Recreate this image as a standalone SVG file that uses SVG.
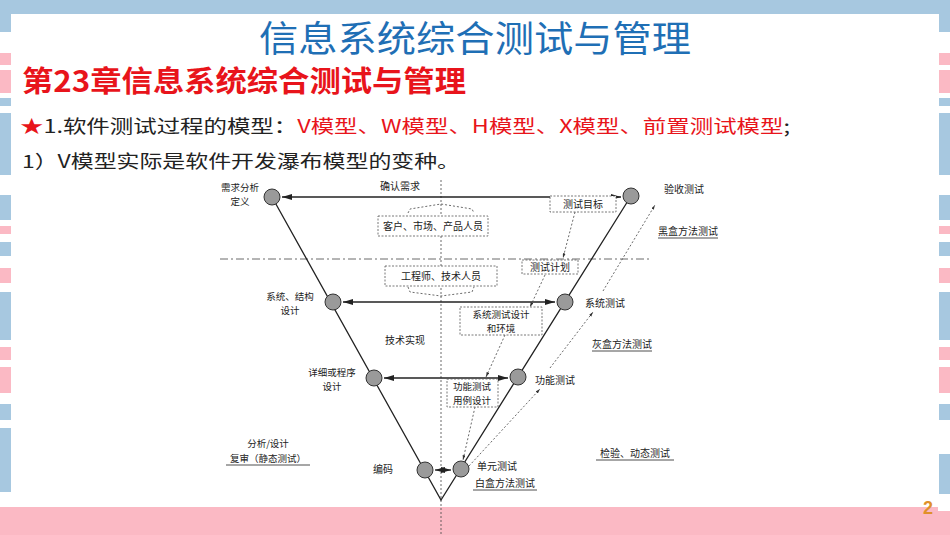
<svg xmlns="http://www.w3.org/2000/svg" width="950" height="535" viewBox="0 0 950 535">
<style>
.b{fill:#a7c8e0}.p{fill:#fbb9c4}
.l{font-family:"Noto Sans CJK SC","Liberation Sans",sans-serif;font-size:10px;fill:#222}
.sm{font-size:9.5px}
.ln{stroke:#222;stroke-width:1.3;fill:none}
.dt{stroke:#444;stroke-width:0.8;stroke-dasharray:2 2;fill:none}
.bx{stroke:#555;stroke-width:0.8;stroke-dasharray:2 1.5;fill:#fff}
.nd{fill:#9a9a9a;stroke:#333;stroke-width:1}
.u{stroke:#222;stroke-width:0.8}
</style>
<defs>
<marker id="a" viewBox="0 0 10 6" refX="10" refY="3" markerWidth="8" markerHeight="5" orient="auto-start-reverse"><path d="M0,0L10,3L0,6z" fill="#222"/></marker>
<marker id="s" viewBox="0 0 10 6" refX="10" refY="3" markerWidth="6" markerHeight="4" orient="auto"><path d="M0,0L10,3L0,6z" fill="#333"/></marker>
</defs>
<rect width="950" height="535" fill="#fff"/>
<g id="frame">
<rect class="b" x="0" y="0" width="950" height="14"/>
<rect class="b" x="0" y="0" width="11" height="32"/><rect class="p" x="0" y="53" width="11" height="12"/><rect class="p" x="0" y="70" width="11" height="23"/><rect class="b" x="0" y="98" width="11" height="8"/><rect class="b" x="0" y="113" width="11" height="62"/><rect class="b" x="0" y="195" width="11" height="25"/><rect class="p" x="0" y="226" width="11" height="8"/><rect class="b" x="0" y="242" width="11" height="14"/><rect class="p" x="0" y="268" width="11" height="15"/><rect class="b" x="0" y="292" width="11" height="48"/><rect class="p" x="0" y="347" width="11" height="13"/><rect class="p" x="0" y="367" width="11" height="26"/><rect class="b" x="0" y="404" width="11" height="16"/><rect class="b" x="0" y="428" width="11" height="64"/>
<rect class="b" x="939" y="0" width="11" height="32"/><rect class="p" x="939" y="53" width="11" height="12"/><rect class="p" x="939" y="70" width="11" height="23"/><rect class="b" x="939" y="98" width="11" height="8"/><rect class="b" x="939" y="113" width="11" height="62"/><rect class="b" x="939" y="195" width="11" height="25"/><rect class="p" x="939" y="226" width="11" height="8"/><rect class="b" x="939" y="242" width="11" height="14"/><rect class="p" x="939" y="268" width="11" height="15"/><rect class="b" x="939" y="292" width="11" height="48"/><rect class="p" x="939" y="347" width="11" height="13"/><rect class="p" x="939" y="367" width="11" height="26"/><rect class="b" x="939" y="404" width="11" height="16"/><rect class="b" x="939" y="454" width="11" height="40"/>
<rect class="p" x="0" y="507" width="938" height="28"/><rect class="p" x="938" y="511" width="12" height="24"/>
<text x="928" y="514" font-family="Liberation Sans,sans-serif" font-size="18" font-weight="bold" fill="#e0902a" text-anchor="middle">2</text>
</g>
<g id="texts" font-family="'Noto Sans CJK SC','Liberation Sans',sans-serif">
<text x="475" y="52" font-size="36" fill="#1f6fb5" text-anchor="middle" textLength="432" lengthAdjust="spacingAndGlyphs">信息系统综合测试与管理</text>
<text x="22" y="92" font-size="29" font-weight="bold" fill="#e8141b" textLength="444" lengthAdjust="spacingAndGlyphs">第23章信息系统综合测试与管理</text>
<text x="20" y="133" font-size="18" fill="#222" textLength="770" lengthAdjust="spacingAndGlyphs"><tspan fill="#e8141b">★</tspan>1.软件测试过程的模型：<tspan fill="#e8141b">V模型、W模型、H模型、X模型、前置测试模型</tspan>;</text>
<text x="22" y="168" font-size="18" fill="#222" textLength="438" lengthAdjust="spacingAndGlyphs">1）V模型实际是软件开发瀑布模型的变种。</text>
</g>
<g id="connectors">
<line x1="441" y1="180" x2="441" y2="535" class="dt" stroke-dasharray="1.5 1.5"/>
<line x1="220" y1="259" x2="652" y2="259" stroke="#444" stroke-width="0.8" stroke-dasharray="8 3 2 3"/>
<polyline class="ln" points="272,197 441,500 631,196"/>
<line class="ln" x1="282" y1="197" x2="621" y2="197" marker-start="url(#a)" marker-end="url(#a)"/>
<line class="ln" x1="343" y1="302" x2="555" y2="302" marker-start="url(#a)" marker-end="url(#a)"/>
<line class="ln" x1="384" y1="378" x2="508" y2="378" marker-start="url(#a)" marker-end="url(#a)"/>
<line class="ln" x1="435" y1="470" x2="451" y2="470" marker-start="url(#a)" marker-end="url(#a)"/>
<polyline class="dt" points="408,213 410,209 441,204 472,209 474,213"/>
<polyline class="dt" points="408,287 410,292 441,296 472,292 474,287"/>
<line class="dt" x1="575" y1="212" x2="563" y2="258" marker-end="url(#s)"/>
<line class="dt" x1="545" y1="275" x2="530" y2="307" marker-end="url(#s)"/>
<line class="dt" x1="505" y1="335" x2="486" y2="377" marker-end="url(#s)"/>
<line class="dt" x1="475" y1="407" x2="463" y2="460" marker-end="url(#s)"/>
<line class="dt" x1="469" y1="466" x2="540" y2="389" marker-end="url(#s)"/>
<line class="dt" x1="550" y1="368" x2="593" y2="312" marker-end="url(#s)"/>
<line class="dt" x1="603" y1="291" x2="655" y2="205" marker-end="url(#s)"/>
</g>
<g id="boxes" class="l">
<g id="b1"><rect class="bx" x="378" y="216" width="110" height="20"/><text x="433" y="230" text-anchor="middle">客户、市场、产品人员</text></g>
<g id="b2"><rect class="bx" x="385" y="266" width="112" height="20"/><text x="441" y="280" text-anchor="middle">工程师、技术人员</text></g>
<g id="b3"><rect class="bx" x="550" y="196" width="66" height="16"/><text x="583" y="208" text-anchor="middle">测试目标</text></g>
<g id="b4"><rect class="bx" x="522" y="260" width="56" height="14"/><text x="550" y="271" text-anchor="middle">测试计划</text></g>
<g id="b5"><rect class="bx" x="460" y="307" width="82" height="28"/><text class="sm" x="501" y="318" text-anchor="middle">系统测试设计</text><text class="sm" x="501" y="332" text-anchor="middle">和环境</text></g>
<g id="b6"><rect class="bx" x="447" y="379" width="51" height="28"/><text class="sm" x="472" y="390" text-anchor="middle">功能测试</text><text class="sm" x="472" y="404" text-anchor="middle">用例设计</text></g>
</g>
<g id="nodes" class="l">
<g id="n1"><circle class="nd" cx="272" cy="197" r="8"/><text class="sm" x="240" y="191" text-anchor="middle">需求分析</text><text class="sm" x="240" y="205" text-anchor="middle">定义</text></g>
<g id="n2"><circle class="nd" cx="631" cy="196" r="8"/><text x="684" y="193" text-anchor="middle">验收测试</text></g>
<g id="n3"><circle class="nd" cx="333" cy="302" r="8"/><text class="sm" x="290" y="300" text-anchor="middle">系统、结构</text><text class="sm" x="290" y="314" text-anchor="middle">设计</text></g>
<g id="n4"><circle class="nd" cx="565" cy="302" r="8"/><text x="605" y="307" text-anchor="middle">系统测试</text></g>
<g id="n5"><circle class="nd" cx="374" cy="378" r="8"/><text class="sm" x="332" y="376" text-anchor="middle">详细或程序</text><text class="sm" x="332" y="390" text-anchor="middle">设计</text></g>
<g id="n6"><circle class="nd" cx="518" cy="377" r="8"/><text x="555" y="384" text-anchor="middle">功能测试</text></g>
<g id="n7"><circle class="nd" cx="425" cy="470" r="8"/><text x="383" y="473" text-anchor="middle">编码</text></g>
<g id="n8"><circle class="nd" cx="461" cy="469" r="8" fill="#aaa"/><text x="497" y="470" text-anchor="middle">单元测试</text></g>
</g>
<g id="labels" class="l">
<text x="400" y="190" text-anchor="middle">确认需求</text>
<text x="405" y="344" text-anchor="middle">技术实现</text>
<text x="688" y="235" text-anchor="middle">黑盒方法测试</text><line class="u" x1="658" y1="238" x2="718" y2="238"/>
<text x="622" y="348" text-anchor="middle">灰盒方法测试</text><line class="u" x1="592" y1="351" x2="652" y2="351"/>
<text class="sm" x="268" y="447" text-anchor="middle">分析/设计</text>
<text class="sm" x="268" y="462" text-anchor="middle">复审（静态测试）</text><line class="u" x1="226" y1="465" x2="310" y2="465"/>
<text x="505" y="487" text-anchor="middle">白盒方法测试</text><line class="u" x1="473" y1="490" x2="537" y2="490"/>
<text x="635" y="457" text-anchor="middle">检验、动态测试</text><line class="u" x1="596" y1="460" x2="674" y2="460"/>
</g>
</svg>
